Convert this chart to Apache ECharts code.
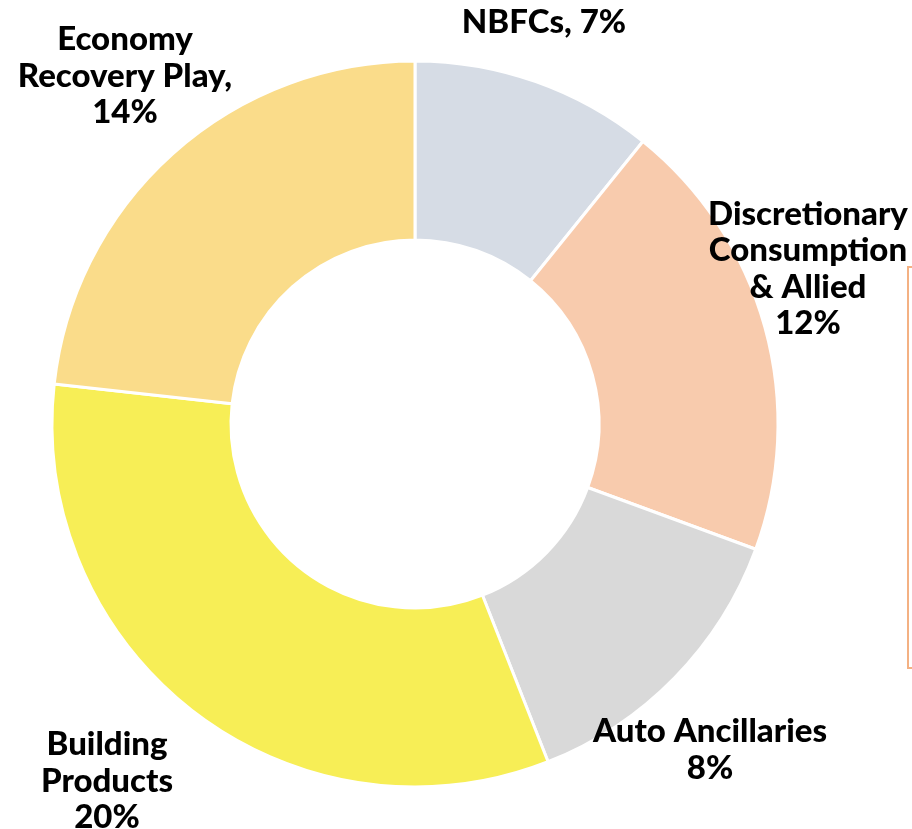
<!DOCTYPE html>
<html>
<head>
<meta charset="utf-8">
<script src="https://cdn.jsdelivr.net/npm/echarts@6/dist/echarts.min.js"></script>
<style>
html,body{margin:0;padding:0;background:#fff;}
#chart{width:912px;height:829px;}
</style>
</head>
<body>
<div id="chart"></div>
<script>
const categories = ['NBFCs', 'Discretionary Consumption & Allied', 'Auto Ancillaries', 'Building Products', 'Economy Recovery Play'];
// slice sizes (labels show the rounded %)
const values = [6.6, 12.1, 8.2, 20.0, 14.2];
const labelTexts = [
  'NBFCs, 7%',
  'Discretionary\nConsumption\n& Allied\n12%',
  'Auto Ancillaries\n8%',
  'Building\nProducts\n20%',
  'Economy\nRecovery Play,\n14%'
];
const colors = ['#D6DCE5', '#F8CBAD', '#D9D9D9', '#F7EE56', '#FADC8A'];
// label anchor centres (layout, not data)
const labelAnchors = [[544, 22], [808, 269], [710, 750], [107, 781], [125, 76]];

const chart = echarts.init(document.getElementById('chart'));
chart.setOption({
  animation: false,
  backgroundColor: '#fff',
  color: colors,
  graphic: [{
    type: 'rect',
    shape: { x: 908, y: 267, width: 30, height: 401 },
    style: { fill: '#fff', stroke: '#F4B183', lineWidth: 2 }
  }],
  series: [{
    type: 'pie',
    center: [415, 424],
    radius: [184, 363],
    startAngle: 90,
    clockwise: true,
    itemStyle: { borderColor: '#fff', borderWidth: 3 },
    labelLine: { show: false },
    label: {
      show: true,
      position: 'outside',
      formatter: p => labelTexts[p.dataIndex],
      fontFamily: 'Lato',
      fontWeight: 900,
      fontSize: 33,
      lineHeight: 36.5,
      color: '#000',
      align: 'center',
      overflow: 'none',
      width: 400
    },
    labelLayout: function (params) {
      const a = labelAnchors[params.dataIndex];
      return { x: a[0], y: a[1], align: 'center', verticalAlign: 'middle' };
    },
    data: categories.map((c, i) => ({ name: c, value: values[i] }))
  }]
});
</script>
</body>
</html>
